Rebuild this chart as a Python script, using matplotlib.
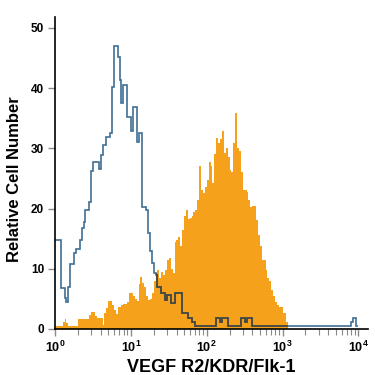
import numpy as np
import matplotlib
matplotlib.use("Agg")
import matplotlib.pyplot as plt

plt.rcParams['font.family'] = ['Liberation Sans', 'DejaVu Sans']
plt.rcParams['mathtext.fontset'] = 'custom'
plt.rcParams['mathtext.rm'] = 'Liberation Sans:bold'
plt.rcParams['mathtext.it'] = 'Liberation Sans:bold'
plt.rcParams['mathtext.bf'] = 'Liberation Sans:bold'
plt.rcParams['mathtext.default'] = 'rm'

# ---- data ----
bin_step = 0.025  # log10 width of each histogram channel

# VEGF R2 stained cells (orange, filled)
stained_counts = [
    0.5, 0.5, 0.5, 0.5, 1.2, 1.7, 1.0, 0.5, 0.5, 0.5,
    0.5, 0.5, 1.7, 1.7, 1.7, 1.7, 1.7, 1.7, 2.3, 2.8,
    2.8, 2.2, 1.8, 1.8, 1.8, 0.6, 2.7, 3.5, 4.7, 4.7,
    4.0, 3.2, 2.5, 3.7, 3.7, 4.0, 4.2, 4.2, 4.4, 6.0,
    6.0, 5.5, 5.0, 4.6, 7.5, 8.7, 7.6, 7.0, 5.5, 4.8,
    5.0, 6.0, 8.0, 9.3, 9.8, 8.5, 9.4, 9.0, 9.8, 11.5,
    11.8, 10.0, 9.3, 14.5, 14.8, 15.3, 13.7, 16.5, 18.7, 19.8,
    18.2, 18.5, 18.7, 19.5, 19.8, 21.4, 27.0, 23.0, 22.5, 23.5,
    24.8, 27.8, 27.0, 24.2, 29.0, 31.7, 30.9, 31.5, 32.8, 29.2,
    30.0, 28.6, 26.4, 26.1, 30.9, 35.9, 30.0, 29.5, 26.0, 23.0,
    23.0, 22.8, 21.4, 20.3, 20.5, 20.5, 18.1, 15.6, 13.7, 11.5,
    11.5, 9.8, 8.5, 7.9, 6.5, 5.4, 4.5, 4.0, 3.7, 3.7,
    2.6, 2.6, 1.2,
]

# Isotype control (blue outline)
control_counts = [
    14.8, 14.8, 14.8, 6.8, 6.8, 5.1, 4.5, 7.0, 10.8, 10.8,
    12.6, 13.3, 13.3, 14.8, 16.8, 17.8, 19.8, 19.8, 21.1, 26.2,
    27.7, 27.7, 27.7, 26.5, 28.9, 30.6, 30.6, 31.9, 31.9, 32.5,
    40.2, 47.0, 47.0, 45.2, 41.4, 37.5, 40.5, 40.5, 35.2, 35.2,
    32.9, 36.9, 36.9, 31.1, 32.6, 32.6, 20.3, 20.3, 19.8, 16.0,
    13.0, 11.0, 9.3, 9.0, 7.0, 7.0, 6.0, 6.0, 4.8, 5.6,
    5.6, 4.3, 4.3, 6.0, 6.0, 6.0, 6.0, 2.6, 2.6, 2.6,
    1.8, 1.8, 1.2, 1.2, 0.5, 0.5, 0.5, 0.5, 0.5, 0.5,
    0.5, 0.5, 0.5, 0.5, 0.5, 1.8, 1.8, 1.2, 1.8, 1.8,
    1.8, 0.5, 0.5, 0.5, 0.5, 0.5, 0.5, 0.5, 1.8, 1.8,
    1.2, 1.8, 1.8, 1.8, 0.5, 0.5, 0.5, 0.5, 0.5, 0.5,
    0.5, 0.5, 0.5, 0.5, 0.5, 0.5, 0.5, 0.5, 0.5, 0.5,
    0.5, 0.5, 0.5, 0.5, 0.5, 0.5, 0.5, 0.5, 0.5, 0.5,
    0.5, 0.5, 0.5, 0.5, 0.5, 0.5, 0.5, 0.5, 0.5, 0.5,
    0.5, 0.5, 0.5, 0.5, 0.5, 0.5, 0.5, 0.5, 0.5, 0.5,
    0.5, 0.5, 0.5, 0.5, 0.5, 0.5, 1.2, 1.8, 1.8, 0.5,
]

y_ticks = [0, 10, 20, 30, 40, 50]
x_ticks = [1, 10, 100, 1000, 10000]
x_ticklabels = [r'$10^{0}$', r'$10^{1}$', r'$10^{2}$', r'$10^{3}$', r'$10^{4}$']
x_label = 'VEGF R2/KDR/Flk-1'
y_label = 'Relative Cell Number'

# ---- figure ----
orange = '#f6a11c'
blue = '#3f6f93'
dark = '#4a4535'

fig = plt.figure(figsize=(3.75, 3.75), dpi=100)
ax = fig.add_axes([0.147, 0.1227, 0.835, 0.832])

stained_edges = 10 ** (bin_step * np.arange(len(stained_counts) + 1))
control_edges = 10 ** (bin_step * np.arange(len(control_counts) + 1))

fill = ax.stairs(stained_counts, stained_edges, fill=True, color=orange,
                 linewidth=0, zorder=2)
ax.stairs(control_counts, control_edges, color=blue, linewidth=1.2,
          baseline=None, zorder=3)
over = ax.stairs(control_counts, control_edges, color=dark, linewidth=1.2,
                 baseline=None, zorder=4)
over.set_clip_path(fill)

ax.set_xscale('log')
ax.set_xlim(1, 10 ** 4.13)
ax.set_ylim(0, 51.8)

ax.set_yticks(y_ticks)
ax.set_yticklabels([str(v) for v in y_ticks], fontweight='bold', fontsize=8.5)
ax.set_xticks(x_ticks)
ax.set_xticklabels(x_ticklabels, fontsize=9)
ax.xaxis.set_minor_locator(matplotlib.ticker.LogLocator(base=10, subs=np.arange(2, 10)))
ax.xaxis.set_minor_formatter(matplotlib.ticker.NullFormatter())

ax.tick_params(axis='both', which='major', length=5, width=1, color='#8a8a8a', pad=3)
ax.tick_params(axis='x', which='minor', length=4, width=0.8, color='#8a8a8a')

for s in ['top', 'right']:
    ax.spines[s].set_visible(False)
for s in ['left', 'bottom']:
    ax.spines[s].set_linewidth(1.2)
    ax.spines[s].set_color('black')
    ax.spines[s].set_zorder(5)

ax.set_xlabel(x_label, fontsize=13, fontweight='bold', labelpad=3)
ax.set_ylabel(y_label, fontsize=12, fontweight='bold')
ax.yaxis.set_label_coords(-0.105, 0.48)

fig.savefig('out.png', dpi=100)
